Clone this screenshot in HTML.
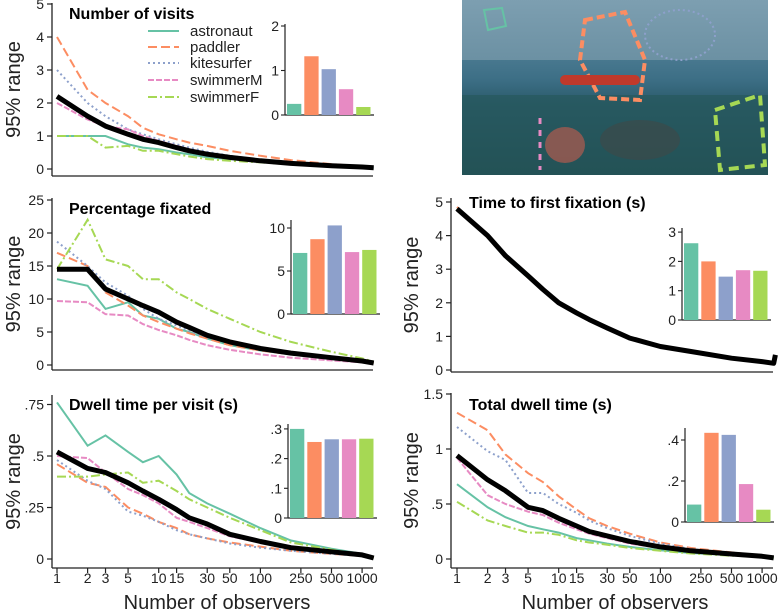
<!DOCTYPE html>
<html><head><meta charset="utf-8"><style>
body{margin:0;background:#fff;}
svg{display:block;font-family:"Liberation Sans",sans-serif;}
.tk{font-size:14px;fill:#222;}
.ttl{font-size:16px;font-weight:bold;fill:#000;}
.yl{font-size:20px;fill:#222;}
</style></head><body>
<svg id="c" width="779" height="612" viewBox="0 0 779 612">
<defs>
<linearGradient id="sea" x1="0" y1="0" x2="0" y2="1"><stop offset="0" stop-color="#6a94aa"/><stop offset="0.45" stop-color="#3d6f86"/><stop offset="0.6" stop-color="#2a5a6a"/><stop offset="1" stop-color="#1c4446"/></linearGradient>
</defs>
<g>
<rect x="462" y="0" width="306" height="175" fill="url(#sea)"/>
<rect x="462" y="0" width="306" height="60" fill="#8fa9b8" opacity="0.5"/>
<rect x="462" y="95" width="306" height="80" fill="#27585c" opacity="0.7"/>
<polygon points="585,20 625,12 645,60 640,100 600,98 580,60" fill="none" stroke="#fc8d62" stroke-width="4" stroke-dasharray="8,4"/>
<ellipse cx="680" cy="35" rx="35" ry="25" fill="none" stroke="#8da0cb" stroke-width="2" stroke-dasharray="2,3"/>
<rect x="560" y="75" width="80" height="10" rx="5" fill="#c0392b"/>
<polygon points="715,110 760,95 765,165 720,170" fill="none" stroke="#a6d854" stroke-width="4" stroke-dasharray="10,6"/>
<polygon points="484,10 502,8 506,26 488,30" fill="none" stroke="#66c2a5" stroke-width="2"/>
<line x1="540" y1="118" x2="540" y2="170" stroke="#e78ac3" stroke-width="3" stroke-dasharray="6,6"/>
<ellipse cx="565" cy="145" rx="20" ry="18" fill="#a05a50" opacity="0.8"/>
<ellipse cx="640" cy="140" rx="40" ry="20" fill="#3c4a4a" opacity="0.7"/>
</g>
</svg>
<script>
const N = [1,2,3,5,7,10,15,20,30,50,100,200,500,1000,1300];
const N2 = [1,2,3,5,7,10,15,20,30,50,100,200,500,1000,1300,1350];
const series = ["astronaut","paddler","kitesurfer","swimmerM","swimmerF"];
const xTicks = [1,2,3,5,10,15,30,50,100,250,500,1000];
const xTickLabels = ["1","2","3","5","10","15","30","50","100","250","500","1000"];

const visitsAstronaut = [1.0,1.0,1.0,0.75,0.65,0.6,0.5,0.45,0.35,0.3,0.22,0.15,0.09,0.05,0.04];
const visitsPaddler = [4.0,2.4,2.0,1.6,1.25,1.05,0.9,0.8,0.7,0.55,0.4,0.27,0.15,0.08,0.05];
const visitsKite = [3.0,2.0,1.6,1.2,1.05,0.9,0.75,0.65,0.52,0.4,0.28,0.18,0.1,0.06,0.04];
const visitsSwimM = [2.0,1.5,1.3,1.2,1.0,0.85,0.7,0.6,0.48,0.36,0.25,0.16,0.09,0.05,0.04];
const visitsSwimF = [1.0,1.0,0.65,0.7,0.55,0.55,0.45,0.38,0.3,0.25,0.2,0.14,0.08,0.05,0.04];
const visitsMean = [2.2,1.6,1.3,1.05,0.9,0.8,0.65,0.55,0.45,0.35,0.25,0.17,0.1,0.06,0.04];
const visitsBars = [0.25,1.32,1.03,0.58,0.18];

const pctAstronaut = [13,12,8.5,9.5,7.5,7,5.5,5,4,3,2.2,1.6,1,0.6,0.3];
const pctPaddler = [17,15,11,9,7.5,6.5,5.5,4.8,4,3,2.2,1.6,1,0.6,0.3];
const pctKite = [18.7,15,12.5,10.5,8.5,7,6,5.2,4.2,3.3,2.3,1.7,1,0.6,0.3];
const pctSwimM = [9.7,9.5,7.7,7.5,6.2,5.3,4.5,3.8,3,2.3,1.6,1.1,0.7,0.4,0.2];
const pctSwimF = [14.5,22,16,15,13,13,11,10,8.5,7,5,3.5,2,1,0.5];
const pctMean = [14.5,14.5,11.5,10,9,8,6.5,5.7,4.5,3.5,2.5,1.8,1.1,0.6,0.3];
const pctBars = [7.1,8.7,10.3,7.2,7.45];

const dpvAstronaut = [0.76,0.55,0.6,0.52,0.47,0.5,0.41,0.32,0.27,0.22,0.15,0.09,0.05,0.025,0.01];
const dpvPaddler = [0.46,0.37,0.35,0.25,0.22,0.18,0.15,0.12,0.1,0.08,0.06,0.04,0.025,0.015,0.005];
const dpvKite = [0.48,0.38,0.34,0.23,0.21,0.18,0.14,0.12,0.1,0.075,0.055,0.04,0.025,0.015,0.005];
const dpvSwimM = [0.5,0.49,0.42,0.34,0.31,0.27,0.2,0.18,0.15,0.11,0.08,0.055,0.035,0.02,0.005];
const dpvSwimF = [0.4,0.4,0.41,0.42,0.37,0.38,0.33,0.29,0.25,0.2,0.14,0.08,0.045,0.02,0.005];
const dpvMean = [0.52,0.44,0.42,0.37,0.33,0.29,0.24,0.2,0.17,0.12,0.085,0.055,0.035,0.02,0.005];
const dpvBars = [0.30,0.256,0.265,0.265,0.267];

const ttffAstronaut = [4.8,4.05,3.35,2.75,2.4,2.0,1.7,1.5,1.25,0.95,0.7,0.55,0.35,0.25,0.2,0.45];
const ttffPaddler = [4.85,4.0,3.4,2.8,2.4,2.0,1.7,1.5,1.25,0.95,0.7,0.55,0.35,0.25,0.2,0.45];
const ttffKite = [4.8,4.0,3.4,2.8,2.4,2.0,1.68,1.5,1.25,0.96,0.7,0.55,0.35,0.25,0.2,0.45];
const ttffSwimM = [4.8,4.0,3.4,2.8,2.42,2.0,1.7,1.5,1.25,0.95,0.7,0.55,0.35,0.25,0.2,0.45];
const ttffSwimF = [4.8,3.95,3.4,2.8,2.4,2.02,1.7,1.5,1.25,0.95,0.7,0.55,0.35,0.25,0.2,0.45];
const ttffMean = [4.8,4.0,3.4,2.8,2.4,2.0,1.7,1.5,1.25,0.95,0.7,0.55,0.35,0.25,0.2,0.45];
const ttffBars = [2.62,2.0,1.48,1.7,1.68];

const tdAstronaut = [0.68,0.47,0.38,0.3,0.27,0.24,0.19,0.17,0.14,0.11,0.08,0.055,0.035,0.02,0.01];
const tdPaddler = [1.33,1.17,0.95,0.78,0.7,0.57,0.45,0.37,0.3,0.23,0.15,0.1,0.06,0.03,0.015];
const tdKite = [1.2,0.98,0.9,0.6,0.6,0.5,0.42,0.35,0.28,0.21,0.14,0.09,0.05,0.03,0.015];
const tdSwimM = [0.92,0.58,0.5,0.43,0.4,0.33,0.27,0.23,0.19,0.14,0.1,0.07,0.04,0.025,0.01];
const tdSwimF = [0.52,0.35,0.3,0.24,0.24,0.22,0.17,0.15,0.13,0.1,0.075,0.05,0.03,0.02,0.01];
const tdMean = [0.94,0.72,0.62,0.47,0.44,0.37,0.3,0.25,0.21,0.16,0.11,0.075,0.045,0.025,0.01];
const tdBars = [0.085,0.435,0.425,0.185,0.06];

const colors = ["#66c2a5","#fc8d62","#8da0cb","#e78ac3","#a6d854"];
const dashes = ["","9,4","2,3","6,2","9,3,2,3"];
const svg = document.getElementById('c');
const NS = "http://www.w3.org/2000/svg";
function mk(tag, attrs, parent){const e=document.createElementNS(NS,tag);for(const k in attrs)e.setAttribute(k,attrs[k]);(parent||svg).appendChild(e);return e;}
function txt(s, attrs, parent){const e=mk('text',attrs,parent);e.textContent=s;return e;}

function panel(p){
  const g=mk('g',{});
  
  
  const X=n=>p.x1+Math.log10(n)*p.dec;
  const Y=v=>p.y0-v*p.py;
  const ya=mk('line',{x1:p.sx,y1:p.ytop,x2:p.sx,y2:p.base,stroke:'#222','stroke-width':1.3},g);
  
  
  const xa=mk('line',{x1:p.sx,y1:p.base,x2:p.xend,y2:p.base,stroke:'#222','stroke-width':1.3},g);
  
  
  p.yt.forEach((v,i)=>{
    mk('line',{x1:p.sx-5,y1:Y(v),x2:p.sx,y2:Y(v),stroke:'#222','stroke-width':1.2},g);
    const t=txt(p.ytl[i],{x:p.sx-8,y:Y(v)+5,'text-anchor':'end',class:'tk'},g);
    
    
  });
  if(p.xlabels){
    xTicks.forEach((n,i)=>{
      mk('line',{x1:X(n),y1:p.base,x2:X(n),y2:p.base+5,stroke:'#222','stroke-width':1.2},g);
      const t=txt(xTickLabels[i],{x:X(n),y:583,'text-anchor':'middle',class:'tk'},g);
      
      
    });
    const xt=txt('Number of observers',{x:p.xtc,y:609,'text-anchor':'middle',class:'yl'},g);
    
    
  }
  const yl=txt('95% range',{x:0,y:0,'text-anchor':'middle',class:'yl',transform:`translate(${p.ylx},${(p.ytop+p.base)/2}) rotate(-90)`},g);
  
  
  const tt=txt(p.title,{x:p.tx,y:p.ty,class:'ttl'},g);
  
  
  const xs=p.ns;
  p.data.forEach((arr,i)=>{
    const d=arr.map((v,j)=>(j?'L':'M')+X(xs[j]).toFixed(1)+','+Y(v).toFixed(1)).join('');
    const pa=mk('path',{d:d,fill:'none',stroke:colors[i],'stroke-width':2,'stroke-dasharray':dashes[i]},g);
    
    
  });
  const md=p.mean.map((v,j)=>(j?'L':'M')+X(xs[j]).toFixed(1)+','+Y(v).toFixed(1)).join('');
  const mp=mk('path',{d:md,fill:'none',stroke:'#000','stroke-width':5,'stroke-linejoin':'round'},g);
  
  
  const b=p.bar;
  const BY=v=>b.y0-v*b.py;
  const ig=mk('g',{},g);
  
  
  mk('line',{x1:b.sx,y1:b.ytop,x2:b.sx,y2:b.y0,stroke:'#222','stroke-width':1.2},ig);
  mk('line',{x1:b.sx,y1:b.y0,x2:b.sx+89,y2:b.y0,stroke:'#222','stroke-width':1.2},ig);
  b.yt.forEach((v,i)=>{
    mk('line',{x1:b.sx-4,y1:BY(v),x2:b.sx,y2:BY(v),stroke:'#222','stroke-width':1.1},ig);
    txt(b.ytl[i],{x:b.sx-6,y:BY(v)+5,'text-anchor':'end',class:'tk'},ig);
  });
  b.vals.forEach((v,i)=>{
    const r=mk('rect',{x:b.sx+2+i*17.3,y:BY(v),width:14.3,height:v*b.py,fill:colors[i]},ig);
    
    
  });
}

const L={x1:57,dec:101.7,sx:52,xend:373,ylx:20};
const R={x1:457,dec:101.7,sx:451,xend:773,ylx:418};
panel(Object.assign({},L,{name:'panel-number-of-visits',y0:169,py:33,ytop:3,base:176,yt:[0,1,2,3,4,5],ytl:['0','1','2','3','4','5'],title:'Number of visits',tx:69,ty:19,ns:N,
  data:[visitsAstronaut,visitsPaddler,visitsKite,visitsSwimM,visitsSwimF],mean:visitsMean,
  bar:{sx:285,y0:115,py:44.5,ytop:24,yt:[0,1,2],ytl:['0','1','2'],vals:visitsBars}}));
panel(Object.assign({},L,{name:'panel-percentage-fixated',y0:365,py:6.6,ytop:198,base:370,yt:[0,5,10,15,20,25],ytl:['0','5','10','15','20','25'],title:'Percentage fixated',tx:69,ty:214,ns:N,
  data:[pctAstronaut,pctPaddler,pctKite,pctSwimM,pctSwimF],mean:pctMean,
  bar:{sx:291,y0:314,py:8.6,ytop:220,yt:[0,5,10],ytl:['0','5','10'],vals:pctBars}}));
panel(Object.assign({},L,{name:'panel-dwell-time-per-visit',y0:559,py:206,ytop:395,base:568,yt:[0,0.25,0.5,0.75],ytl:['0','.25','.5','.75'],title:'Dwell time per visit (s)',tx:69,ty:410,ns:N,xlabels:true,xtc:217,
  data:[dpvAstronaut,dpvPaddler,dpvKite,dpvSwimM,dpvSwimF],mean:dpvMean,
  bar:{sx:288,y0:518,py:297,ytop:424,yt:[0,0.1,0.2,0.3],ytl:['0','.1','.2','.3'],vals:dpvBars}}));
panel(Object.assign({},R,{name:'panel-time-to-first-fixation',y0:370,py:33.6,ytop:198,base:372,yt:[0,1,2,3,4,5],ytl:['0','1','2','3','4','5'],title:'Time to first fixation (s)',tx:469,ty:208,ns:N2,
  data:[ttffAstronaut,ttffPaddler,ttffKite,ttffSwimM,ttffSwimF],mean:ttffMean,
  bar:{sx:682,y0:320,py:29.3,ytop:228,yt:[0,1,2,3],ytl:['0','1','2','3'],vals:ttffBars}}));
panel(Object.assign({},R,{name:'panel-total-dwell-time',y0:559,py:110,ytop:393,base:568,yt:[0,0.5,1,1.5],ytl:['0','.5','1','1.5'],title:'Total dwell time (s)',tx:469,ty:410,ns:N,xlabels:true,xtc:615,
  data:[tdAstronaut,tdPaddler,tdKite,tdSwimM,tdSwimF],mean:tdMean,
  bar:{sx:685,y0:522,py:205,ytop:428,yt:[0,0.2,0.4],ytl:['0','.2','.4'],vals:tdBars}}));

const lg=mk('g',{});


const legendY=[31,47,63,80,97];
series.forEach((s,i)=>{
  const e=mk('g',{},lg);
  
  
  mk('line',{x1:148,y1:legendY[i],x2:179,y2:legendY[i],stroke:colors[i],'stroke-width':2,'stroke-dasharray':dashes[i]},e);
  txt(s,{x:190,y:legendY[i]+5,style:'font-size:15px;fill:#222'},e);
});
</script>
</body></html>
